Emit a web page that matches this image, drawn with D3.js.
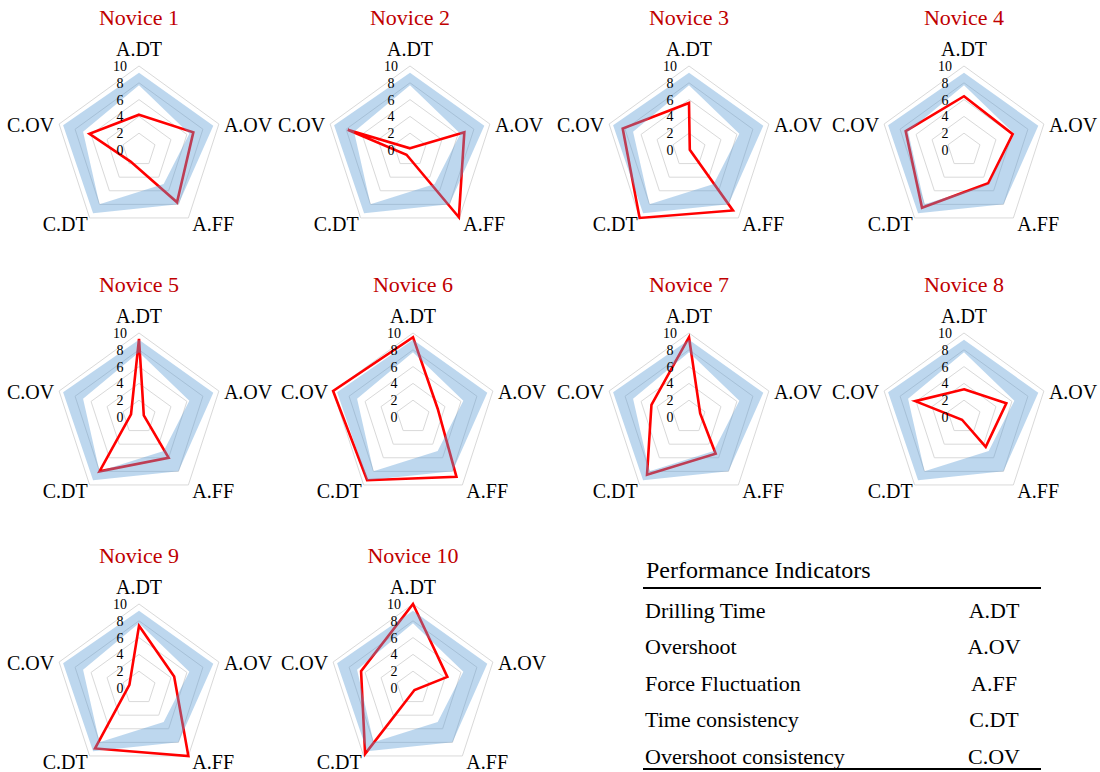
<!DOCTYPE html>
<html>
<head>
<meta charset="utf-8">
<script src="https://cdn.jsdelivr.net/npm/d3@7"></script>
<style>
  body { margin: 0; background: #fff; }
  text { font-family: "Liberation Serif", "Times New Roman", serif; }
</style>
</head>
<body>
<svg id="chart" width="1100" height="772"></svg>
<script>
// indicator axes, clockwise from the top
var axes = ["A.DT", "A.OV", "A.FF", "C.DT", "C.OV"];
var ticks = [0, 2, 4, 6, 8, 10];

// expert reference band (outer and inner edge)
var expertMax = [9.2, 9.3, 8.0, 9.3, 9.5];
var expertMin = [7.7, 6.3, 5.0, 8.0, 7.0];

var novices = ["Novice 1", "Novice 2", "Novice 3", "Novice 4", "Novice 5",
               "Novice 6", "Novice 7", "Novice 8", "Novice 9", "Novice 10"];
var noviceScores = [
    [4.2, 6.8, 7.7, 1.7, 6.2],
    [0.2, 6.8, 9.9, 0.7, 7.8],
    [5.6, 0.1, 8.9, 10.0, 8.3],
    [6.4, 6.1, 4.9, 8.5, 7.3],
    [9.3, 0.6, 6.0, 8.0, 1.0],
    [9.5, 3.1, 8.8, 9.3, 10.0],
    [9.5, 1.4, 5.4, 8.5, 4.7],
    [3.3, 5.3, 4.4, 0.4, 6.1],
    [7.4, 4.4, 10.0, 8.9, 1.2],
    [10.0, 4.3, 0.3, 9.7, 6.5]
];

// table of performance indicators
var indicatorNames = ["Drilling Time", "Overshoot", "Force Fluctuation", "Time consistency", "Overshoot consistency"];
var indicatorCodes = ["A.DT", "A.OV", "A.FF", "C.DT", "C.OV"];

var svg = d3.select("#chart");
var R = 84;
var r = d3.scaleLinear().domain([0, 10]).range([0, R]);
var angle = d3.scalePoint().domain(axes).range([0, 2 * Math.PI * 4 / 5]);

// centres of the small multiples
var colX = [139, 410, 689, 964];
var rowY = [150, 417, 688];

var radar = d3.lineRadial()
    .angle((d, i) => angle(axes[i]))
    .radius(d => r(d))
    .curve(d3.curveLinearClosed);

function vertex(i, v) {
    var a = angle(axes[i]);
    return [Math.sin(a) * r(v), -Math.cos(a) * r(v)];
}

novices.forEach(function (name, k) {
    var cx = colX[k % 4], cy = rowY[Math.floor(k / 4)];
    if (k === 5 || k === 9) cx = 413;
    var g = svg.append("g").attr("transform", "translate(" + cx + "," + cy + ")");

    // grid pentagons
    g.selectAll("path.grid")
        .data(ticks.slice(1))
        .join("path")
        .attr("class", "grid")
        .attr("d", t => radar(axes.map(() => t)))
        .attr("fill", "none")
        .attr("stroke", "#d9d9d9")
        .attr("stroke-width", 1);

    // novice line
    g.append("path")
        .attr("d", radar(noviceScores[k]))
        .attr("fill", "none")
        .attr("stroke", "#ff0000")
        .attr("stroke-width", 2.6)
        .attr("stroke-linejoin", "miter");

    // expert band on top, semi transparent
    g.append("path")
        .attr("d", radar(expertMax) + radar(expertMin))
        .attr("fill", "#5b9bd5")
        .attr("fill-opacity", 0.4)
        .attr("fill-rule", "evenodd");

    // tick labels
    g.selectAll("text.tick")
        .data(ticks)
        .join("text")
        .attr("class", "tick")
        .attr("x", -19)
        .attr("y", t => -r(t) + 5)
        .attr("text-anchor", "middle")
        .style("font-size", "14px")
        .text(t => t);

    // axis labels
    axes.forEach(function (ax, i) {
        var p = vertex(i, 10);
        var x = p[0], y = p[1], anchor = "middle";
        if (i === 0) { y = y - 10; }
        else if (i === 1) { x += 5; y += 8; anchor = "start"; }
        else if (i === 2) { x += 4; y += 13; anchor = "start"; }
        else if (i === 3) { x -= 2; y += 13; anchor = "end"; }
        else { x -= 5; y += 8; anchor = "end"; }
        g.append("text")
            .attr("x", x).attr("y", y)
            .attr("text-anchor", anchor)
            .style("font-size", "20px")
            .text(ax);
    });

    // title
    g.append("text")
        .attr("x", 0).attr("y", -125)
        .attr("text-anchor", "middle")
        .attr("fill", "#c00000")
        .style("font-size", "22px")
        .text(name);
});

// legend table
var tbl = svg.append("g");
tbl.append("text")
    .attr("x", 646).attr("y", 578)
    .style("font-size", "24px")
    .text("Performance Indicators");
tbl.append("line")
    .attr("x1", 643).attr("x2", 1041).attr("y1", 588).attr("y2", 588)
    .attr("stroke", "#000").attr("stroke-width", 2);
tbl.append("line")
    .attr("x1", 643).attr("x2", 1041).attr("y1", 769).attr("y2", 769)
    .attr("stroke", "#000").attr("stroke-width", 2);

var rowPos = d3.scaleBand().domain(indicatorNames).range([593, 775]);
tbl.selectAll("text.name")
    .data(indicatorNames)
    .join("text")
    .attr("class", "name")
    .attr("x", 645)
    .attr("y", d => rowPos(d) + 25)
    .style("font-size", "22px")
    .text(d => d);
tbl.selectAll("text.code")
    .data(indicatorCodes)
    .join("text")
    .attr("class", "code")
    .attr("x", 994)
    .attr("y", (d, i) => rowPos(indicatorNames[i]) + 25)
    .attr("text-anchor", "middle")
    .style("font-size", "22px")
    .text(d => d);
</script>
</body>
</html>
